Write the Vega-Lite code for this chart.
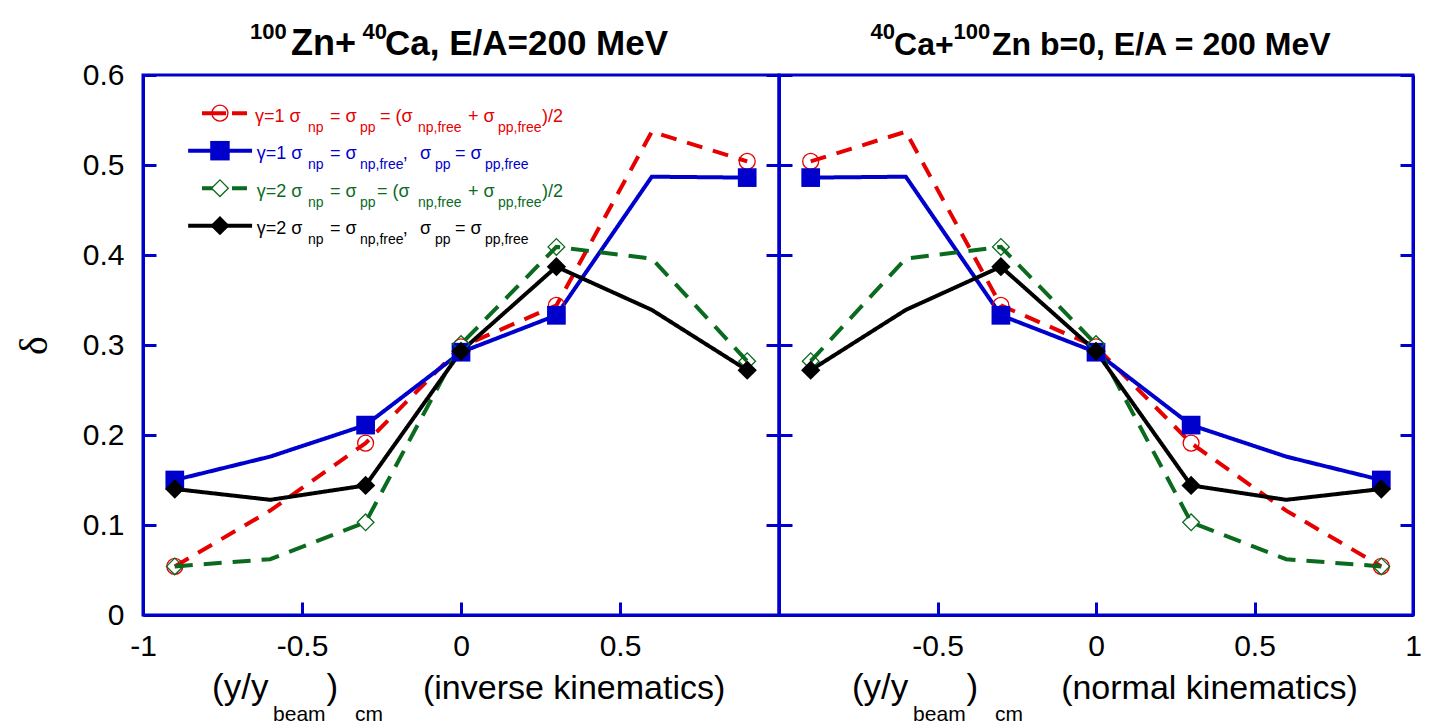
{
"$schema": "https://vega.github.io/schema/vega-lite/v6.json",
"background": "white",
"padding": {"left": 12, "top": 19, "right": 10, "bottom": 5},
"spacing": 0,
"bounds": "flush",
"config": {
  "view": {"stroke": "#0000cc", "strokeWidth": 3},
  "axis": {"domainColor": "#0000cc", "domainWidth": 3, "tickColor": "#0000cc", "tickWidth": 3, "tickSize": -13, "labelFontSize": 30, "labelFont": "Liberation Sans", "labelColor": "#000000", "grid": false, "labelFlush": false, "labelOverlap": false, "labelPadding": 29}
},
"datasets": {"d": [
{"kin":"inv","s":"g1_avg","x":-0.9,"delta":0.054,"m":1},{"kin":"inv","s":"g1_avg","x":-0.6,"delta":0.116,"m":0},{"kin":"inv","s":"g1_avg","x":-0.3,"delta":0.191,"m":1},{"kin":"inv","s":"g1_avg","x":0,"delta":0.298,"m":1},{"kin":"inv","s":"g1_avg","x":0.3,"delta":0.344,"m":1},{"kin":"inv","s":"g1_avg","x":0.6,"delta":0.537,"m":0},{"kin":"inv","s":"g1_avg","x":0.9,"delta":0.504,"m":1},
{"kin":"inv","s":"g1_free","x":-0.9,"delta":0.150,"m":1},{"kin":"inv","s":"g1_free","x":-0.6,"delta":0.176,"m":0},{"kin":"inv","s":"g1_free","x":-0.3,"delta":0.211,"m":1},{"kin":"inv","s":"g1_free","x":0,"delta":0.292,"m":1},{"kin":"inv","s":"g1_free","x":0.3,"delta":0.333,"m":1},{"kin":"inv","s":"g1_free","x":0.6,"delta":0.487,"m":0},{"kin":"inv","s":"g1_free","x":0.9,"delta":0.486,"m":1},
{"kin":"inv","s":"g2_avg","x":-0.9,"delta":0.054,"m":1},{"kin":"inv","s":"g2_avg","x":-0.6,"delta":0.062,"m":0},{"kin":"inv","s":"g2_avg","x":-0.3,"delta":0.103,"m":1},{"kin":"inv","s":"g2_avg","x":0,"delta":0.301,"m":1},{"kin":"inv","s":"g2_avg","x":0.3,"delta":0.409,"m":1},{"kin":"inv","s":"g2_avg","x":0.6,"delta":0.396,"m":0},{"kin":"inv","s":"g2_avg","x":0.9,"delta":0.282,"m":1},
{"kin":"inv","s":"g2_free","x":-0.9,"delta":0.140,"m":1},{"kin":"inv","s":"g2_free","x":-0.6,"delta":0.128,"m":0},{"kin":"inv","s":"g2_free","x":-0.3,"delta":0.144,"m":1},{"kin":"inv","s":"g2_free","x":0,"delta":0.293,"m":1},{"kin":"inv","s":"g2_free","x":0.3,"delta":0.387,"m":1},{"kin":"inv","s":"g2_free","x":0.6,"delta":0.339,"m":0},{"kin":"inv","s":"g2_free","x":0.9,"delta":0.272,"m":1},
{"kin":"nor","s":"g1_avg","x":0.9,"delta":0.054,"m":1},{"kin":"nor","s":"g1_avg","x":0.6,"delta":0.116,"m":0},{"kin":"nor","s":"g1_avg","x":0.3,"delta":0.191,"m":1},{"kin":"nor","s":"g1_avg","x":0,"delta":0.298,"m":1},{"kin":"nor","s":"g1_avg","x":-0.3,"delta":0.344,"m":1},{"kin":"nor","s":"g1_avg","x":-0.6,"delta":0.537,"m":0},{"kin":"nor","s":"g1_avg","x":-0.9,"delta":0.504,"m":1},
{"kin":"nor","s":"g1_free","x":0.9,"delta":0.150,"m":1},{"kin":"nor","s":"g1_free","x":0.6,"delta":0.176,"m":0},{"kin":"nor","s":"g1_free","x":0.3,"delta":0.211,"m":1},{"kin":"nor","s":"g1_free","x":0,"delta":0.292,"m":1},{"kin":"nor","s":"g1_free","x":-0.3,"delta":0.333,"m":1},{"kin":"nor","s":"g1_free","x":-0.6,"delta":0.487,"m":0},{"kin":"nor","s":"g1_free","x":-0.9,"delta":0.486,"m":1},
{"kin":"nor","s":"g2_avg","x":0.9,"delta":0.054,"m":1},{"kin":"nor","s":"g2_avg","x":0.6,"delta":0.062,"m":0},{"kin":"nor","s":"g2_avg","x":0.3,"delta":0.103,"m":1},{"kin":"nor","s":"g2_avg","x":0,"delta":0.301,"m":1},{"kin":"nor","s":"g2_avg","x":-0.3,"delta":0.409,"m":1},{"kin":"nor","s":"g2_avg","x":-0.6,"delta":0.396,"m":0},{"kin":"nor","s":"g2_avg","x":-0.9,"delta":0.282,"m":1},
{"kin":"nor","s":"g2_free","x":0.9,"delta":0.140,"m":1},{"kin":"nor","s":"g2_free","x":0.6,"delta":0.128,"m":0},{"kin":"nor","s":"g2_free","x":0.3,"delta":0.144,"m":1},{"kin":"nor","s":"g2_free","x":0,"delta":0.293,"m":1},{"kin":"nor","s":"g2_free","x":-0.3,"delta":0.387,"m":1},{"kin":"nor","s":"g2_free","x":-0.6,"delta":0.339,"m":0},{"kin":"nor","s":"g2_free","x":-0.9,"delta":0.272,"m":1}
]},
"hconcat": [
{
  "width": 636, "height": 540,
  "data": {"name": "d"},
  "transform": [{"filter": "datum.kin == 'inv'"}],
  "resolve": {"axis": {"x": "independent", "y": "independent"}},
  "layer": [
    {"mark": {"type": "line", "strokeWidth": 4},
     "encoding": {
       "x": {"field": "x", "type": "quantitative", "scale": {"domain": [-1, 1], "nice": false, "zero": false}, "axis": {"orient": "bottom", "title": null, "values": [-1, -0.5, 0, 0.5, 1], "labels": true, "labelExpr": "datum.value == 1 ? '' : '' + datum.value"}},
       "y": {"field": "delta", "type": "quantitative", "scale": {"domain": [0, 0.6], "nice": false, "zero": false}, "axis": {"orient": "left", "values": [0, 0.1, 0.2, 0.3, 0.4, 0.5, 0.6], "labelExpr": "'' + datum.value", "labelPadding": 32, "title": "δ", "titleFont": "Liberation Serif", "titleFontSize": 40, "titleFontWeight": "normal", "titleColor": "#000000", "titlePadding": 28}},
       "color": {"field": "s", "type": "nominal", "scale": {"domain": ["g1_avg", "g1_free", "g2_avg", "g2_free"], "range": ["#e60000", "#0000cc", "#0a6a1e", "#000000"]}, "legend": null},
       "strokeDash": {"field": "s", "type": "nominal", "scale": {"domain": ["g1_avg", "g1_free", "g2_avg", "g2_free"], "range": [[16, 11], [1, 0], [18, 11], [1, 0]]}, "legend": null}
     }},
    {"transform": [{"filter": "datum.m == 1 && datum.s == 'g1_avg'"}],
     "mark": {"type": "point", "shape": "circle", "filled": false, "size": 254, "stroke": "#e60000", "strokeWidth": 1.3, "opacity": 1},
     "encoding": {"x": {"field": "x", "type": "quantitative", "axis": null}, "y": {"field": "delta", "type": "quantitative", "axis": {"orient": "right", "labels": false, "title": null, "values": [0, 0.1, 0.2, 0.3, 0.4, 0.5, 0.6]}}}},
    {"transform": [{"filter": "datum.m == 1 && datum.s == 'g1_free'"}],
     "mark": {"type": "point", "shape": "square", "filled": true, "size": 350, "color": "#0000cc", "opacity": 1},
     "encoding": {"x": {"field": "x", "type": "quantitative", "axis": null}, "y": {"field": "delta", "type": "quantitative", "axis": null}}},
    {"transform": [{"filter": "datum.m == 1 && datum.s == 'g2_avg'"}],
     "mark": {"type": "point", "shape": "diamond", "filled": false, "size": 279, "stroke": "#0a6a1e", "strokeWidth": 1.3, "opacity": 1},
     "encoding": {"x": {"field": "x", "type": "quantitative", "axis": null}, "y": {"field": "delta", "type": "quantitative", "axis": null}}},
    {"transform": [{"filter": "datum.m == 1 && datum.s == 'g2_free'"}],
     "mark": {"type": "point", "shape": "diamond", "filled": true, "size": 373, "color": "#000000", "opacity": 1},
     "encoding": {"x": {"field": "x", "type": "quantitative", "axis": null}, "y": {"field": "delta", "type": "quantitative", "axis": null}}},

    {"data": {"values": [{}]}, "mark": {"type": "text", "align": "left", "baseline": "alphabetic", "font": "Liberation Sans", "fontWeight": "bold", "fontSize": 22, "color": "#000000"}, "encoding": {"x": {"datum": -0.6635, "type": "quantitative", "axis": null}, "y": {"datum": 0.6402, "type": "quantitative", "axis": null}, "text": {"value": "100"}}},
    {"data": {"values": [{}]}, "mark": {"type": "text", "align": "left", "baseline": "alphabetic", "font": "Liberation Sans", "fontWeight": "bold", "fontSize": 36, "color": "#000000"}, "encoding": {"x": {"datum": -0.5346, "type": "quantitative", "axis": null}, "y": {"datum": 0.6222, "type": "quantitative", "axis": null}, "text": {"value": "Zn+"}}},
    {"data": {"values": [{}]}, "mark": {"type": "text", "align": "left", "baseline": "alphabetic", "font": "Liberation Sans", "fontWeight": "bold", "fontSize": 22, "color": "#000000"}, "encoding": {"x": {"datum": -0.310, "type": "quantitative", "axis": null}, "y": {"datum": 0.6402, "type": "quantitative", "axis": null}, "text": {"value": "40"}}},
    {"data": {"values": [{}]}, "mark": {"type": "text", "align": "left", "baseline": "alphabetic", "font": "Liberation Sans", "fontWeight": "bold", "fontSize": 35, "color": "#000000"}, "encoding": {"x": {"datum": -0.239, "type": "quantitative", "axis": null}, "y": {"datum": 0.6222, "type": "quantitative", "axis": null}, "text": {"value": "Ca, E/A=200 MeV"}}},

    {"data": {"values": [{}]}, "mark": {"type": "rule", "color": "#e60000", "strokeWidth": 4, "strokeDash": [24, 6]}, "encoding": {"x": {"datum": -0.8145, "type": "quantitative", "axis": null}, "x2": {"datum": -0.673}, "y": {"datum": 0.5576, "type": "quantitative", "axis": null}}},
    {"data": {"values": [{}]}, "mark": {"type": "point", "shape": "circle", "filled": false, "size": 254, "stroke": "#e60000", "strokeWidth": 1.3, "opacity": 1}, "encoding": {"x": {"datum": -0.758, "type": "quantitative", "axis": null}, "y": {"datum": 0.5576, "type": "quantitative", "axis": null}}},
    {"data": {"values": [{}]}, "mark": {"type": "rule", "color": "#0000cc", "strokeWidth": 4}, "encoding": {"x": {"datum": -0.858, "type": "quantitative", "axis": null}, "x2": {"datum": -0.657}, "y": {"datum": 0.5159, "type": "quantitative", "axis": null}}},
    {"data": {"values": [{}]}, "mark": {"type": "point", "shape": "square", "filled": true, "size": 380, "color": "#0000cc", "opacity": 1}, "encoding": {"x": {"datum": -0.758, "type": "quantitative", "axis": null}, "y": {"datum": 0.5159, "type": "quantitative", "axis": null}}},
    {"data": {"values": [{}]}, "mark": {"type": "rule", "color": "#0a6a1e", "strokeWidth": 4, "strokeDash": [24, 6]}, "encoding": {"x": {"datum": -0.8145, "type": "quantitative", "axis": null}, "x2": {"datum": -0.673}, "y": {"datum": 0.4742, "type": "quantitative", "axis": null}}},
    {"data": {"values": [{}]}, "mark": {"type": "point", "shape": "diamond", "filled": true, "size": 279, "color": "white", "opacity": 1}, "encoding": {"x": {"datum": -0.758, "type": "quantitative", "axis": null}, "y": {"datum": 0.4742, "type": "quantitative", "axis": null}}},
    {"data": {"values": [{}]}, "mark": {"type": "point", "shape": "diamond", "filled": false, "size": 279, "stroke": "#0a6a1e", "strokeWidth": 1.3, "opacity": 1}, "encoding": {"x": {"datum": -0.758, "type": "quantitative", "axis": null}, "y": {"datum": 0.4742, "type": "quantitative", "axis": null}}},
    {"data": {"values": [{}]}, "mark": {"type": "rule", "color": "#000000", "strokeWidth": 4}, "encoding": {"x": {"datum": -0.858, "type": "quantitative", "axis": null}, "x2": {"datum": -0.657}, "y": {"datum": 0.4326, "type": "quantitative", "axis": null}}},
    {"data": {"values": [{}]}, "mark": {"type": "point", "shape": "diamond", "filled": true, "size": 373, "color": "#000000", "opacity": 1}, "encoding": {"x": {"datum": -0.758, "type": "quantitative", "axis": null}, "y": {"datum": 0.4326, "type": "quantitative", "axis": null}}},

    {"data": {"values": [{}]}, "mark": {"type": "text", "align": "left", "baseline": "alphabetic", "font": "Liberation Sans", "fontSize": 18, "color": "#e60000"}, "encoding": {"x": {"datum": -0.6478, "type": "quantitative", "axis": null}, "y": {"datum": 0.5481, "type": "quantitative", "axis": null}, "text": {"value": "γ=1 σ"}}},
    {"data": {"values": [{}]}, "mark": {"type": "text", "align": "left", "baseline": "alphabetic", "font": "Liberation Sans", "fontSize": 14, "color": "#e60000"}, "encoding": {"x": {"datum": -0.4811, "type": "quantitative", "axis": null}, "y": {"datum": 0.5370, "type": "quantitative", "axis": null}, "text": {"value": "np"}}},
    {"data": {"values": [{}]}, "mark": {"type": "text", "align": "left", "baseline": "alphabetic", "font": "Liberation Sans", "fontSize": 18, "color": "#e60000"}, "encoding": {"x": {"datum": -0.4119, "type": "quantitative", "axis": null}, "y": {"datum": 0.5481, "type": "quantitative", "axis": null}, "text": {"value": "= σ"}}},
    {"data": {"values": [{}]}, "mark": {"type": "text", "align": "left", "baseline": "alphabetic", "font": "Liberation Sans", "fontSize": 14, "color": "#e60000"}, "encoding": {"x": {"datum": -0.3176, "type": "quantitative", "axis": null}, "y": {"datum": 0.5370, "type": "quantitative", "axis": null}, "text": {"value": "pp"}}},
    {"data": {"values": [{}]}, "mark": {"type": "text", "align": "left", "baseline": "alphabetic", "font": "Liberation Sans", "fontSize": 18, "color": "#e60000"}, "encoding": {"x": {"datum": -0.2547, "type": "quantitative", "axis": null}, "y": {"datum": 0.5481, "type": "quantitative", "axis": null}, "text": {"value": "= (σ"}}},
    {"data": {"values": [{}]}, "mark": {"type": "text", "align": "left", "baseline": "alphabetic", "font": "Liberation Sans", "fontSize": 14, "color": "#e60000"}, "encoding": {"x": {"datum": -0.1352, "type": "quantitative", "axis": null}, "y": {"datum": 0.5370, "type": "quantitative", "axis": null}, "text": {"value": "np,free"}}},
    {"data": {"values": [{}]}, "mark": {"type": "text", "align": "left", "baseline": "alphabetic", "font": "Liberation Sans", "fontSize": 18, "color": "#e60000"}, "encoding": {"x": {"datum": 0.0220, "type": "quantitative", "axis": null}, "y": {"datum": 0.5481, "type": "quantitative", "axis": null}, "text": {"value": "+ σ"}}},
    {"data": {"values": [{}]}, "mark": {"type": "text", "align": "left", "baseline": "alphabetic", "font": "Liberation Sans", "fontSize": 14, "color": "#e60000"}, "encoding": {"x": {"datum": 0.1164, "type": "quantitative", "axis": null}, "y": {"datum": 0.5370, "type": "quantitative", "axis": null}, "text": {"value": "pp,free"}}},
    {"data": {"values": [{}]}, "mark": {"type": "text", "align": "left", "baseline": "alphabetic", "font": "Liberation Sans", "fontSize": 18, "color": "#e60000"}, "encoding": {"x": {"datum": 0.2547, "type": "quantitative", "axis": null}, "y": {"datum": 0.5481, "type": "quantitative", "axis": null}, "text": {"value": ")/2"}}},

    {"data": {"values": [{}]}, "mark": {"type": "text", "align": "left", "baseline": "alphabetic", "font": "Liberation Sans", "fontSize": 18, "color": "#0000cc"}, "encoding": {"x": {"datum": -0.6425, "type": "quantitative", "axis": null}, "y": {"datum": 0.5064, "type": "quantitative", "axis": null}, "text": {"value": "γ=1 σ"}}},
    {"data": {"values": [{}]}, "mark": {"type": "text", "align": "left", "baseline": "alphabetic", "font": "Liberation Sans", "fontSize": 14, "color": "#0000cc"}, "encoding": {"x": {"datum": -0.4811, "type": "quantitative", "axis": null}, "y": {"datum": 0.4953, "type": "quantitative", "axis": null}, "text": {"value": "np"}}},
    {"data": {"values": [{}]}, "mark": {"type": "text", "align": "left", "baseline": "alphabetic", "font": "Liberation Sans", "fontSize": 18, "color": "#0000cc"}, "encoding": {"x": {"datum": -0.4119, "type": "quantitative", "axis": null}, "y": {"datum": 0.5064, "type": "quantitative", "axis": null}, "text": {"value": "= σ"}}},
    {"data": {"values": [{}]}, "mark": {"type": "text", "align": "left", "baseline": "alphabetic", "font": "Liberation Sans", "fontSize": 14, "color": "#0000cc"}, "encoding": {"x": {"datum": -0.3176, "type": "quantitative", "axis": null}, "y": {"datum": 0.4953, "type": "quantitative", "axis": null}, "text": {"value": "np,free"}}},
    {"data": {"values": [{}]}, "mark": {"type": "text", "align": "left", "baseline": "alphabetic", "font": "Liberation Sans", "fontSize": 18, "color": "#0000cc"}, "encoding": {"x": {"datum": -0.1833, "type": "quantitative", "axis": null}, "y": {"datum": 0.5064, "type": "quantitative", "axis": null}, "text": {"value": ","}}},
    {"data": {"values": [{}]}, "mark": {"type": "text", "align": "left", "baseline": "alphabetic", "font": "Liberation Sans", "fontSize": 18, "color": "#0000cc"}, "encoding": {"x": {"datum": -0.1289, "type": "quantitative", "axis": null}, "y": {"datum": 0.5064, "type": "quantitative", "axis": null}, "text": {"value": "σ"}}},
    {"data": {"values": [{}]}, "mark": {"type": "text", "align": "left", "baseline": "alphabetic", "font": "Liberation Sans", "fontSize": 14, "color": "#0000cc"}, "encoding": {"x": {"datum": -0.0818, "type": "quantitative", "axis": null}, "y": {"datum": 0.4953, "type": "quantitative", "axis": null}, "text": {"value": "pp"}}},
    {"data": {"values": [{}]}, "mark": {"type": "text", "align": "left", "baseline": "alphabetic", "font": "Liberation Sans", "fontSize": 18, "color": "#0000cc"}, "encoding": {"x": {"datum": -0.0189, "type": "quantitative", "axis": null}, "y": {"datum": 0.5064, "type": "quantitative", "axis": null}, "text": {"value": "= σ"}}},
    {"data": {"values": [{}]}, "mark": {"type": "text", "align": "left", "baseline": "alphabetic", "font": "Liberation Sans", "fontSize": 14, "color": "#0000cc"}, "encoding": {"x": {"datum": 0.0755, "type": "quantitative", "axis": null}, "y": {"datum": 0.4953, "type": "quantitative", "axis": null}, "text": {"value": "pp,free"}}},

    {"data": {"values": [{}]}, "mark": {"type": "text", "align": "left", "baseline": "alphabetic", "font": "Liberation Sans", "fontSize": 18, "color": "#0a6a1e"}, "encoding": {"x": {"datum": -0.6425, "type": "quantitative", "axis": null}, "y": {"datum": 0.4648, "type": "quantitative", "axis": null}, "text": {"value": "γ=2 σ"}}},
    {"data": {"values": [{}]}, "mark": {"type": "text", "align": "left", "baseline": "alphabetic", "font": "Liberation Sans", "fontSize": 14, "color": "#0a6a1e"}, "encoding": {"x": {"datum": -0.4811, "type": "quantitative", "axis": null}, "y": {"datum": 0.4537, "type": "quantitative", "axis": null}, "text": {"value": "np"}}},
    {"data": {"values": [{}]}, "mark": {"type": "text", "align": "left", "baseline": "alphabetic", "font": "Liberation Sans", "fontSize": 18, "color": "#0a6a1e"}, "encoding": {"x": {"datum": -0.4119, "type": "quantitative", "axis": null}, "y": {"datum": 0.4648, "type": "quantitative", "axis": null}, "text": {"value": "= σ"}}},
    {"data": {"values": [{}]}, "mark": {"type": "text", "align": "left", "baseline": "alphabetic", "font": "Liberation Sans", "fontSize": 14, "color": "#0a6a1e"}, "encoding": {"x": {"datum": -0.3176, "type": "quantitative", "axis": null}, "y": {"datum": 0.4537, "type": "quantitative", "axis": null}, "text": {"value": "pp"}}},
    {"data": {"values": [{}]}, "mark": {"type": "text", "align": "left", "baseline": "alphabetic", "font": "Liberation Sans", "fontSize": 18, "color": "#0a6a1e"}, "encoding": {"x": {"datum": -0.2642, "type": "quantitative", "axis": null}, "y": {"datum": 0.4648, "type": "quantitative", "axis": null}, "text": {"value": "= (σ"}}},
    {"data": {"values": [{}]}, "mark": {"type": "text", "align": "left", "baseline": "alphabetic", "font": "Liberation Sans", "fontSize": 14, "color": "#0a6a1e"}, "encoding": {"x": {"datum": -0.1352, "type": "quantitative", "axis": null}, "y": {"datum": 0.4537, "type": "quantitative", "axis": null}, "text": {"value": "np,free"}}},
    {"data": {"values": [{}]}, "mark": {"type": "text", "align": "left", "baseline": "alphabetic", "font": "Liberation Sans", "fontSize": 18, "color": "#0a6a1e"}, "encoding": {"x": {"datum": 0.0220, "type": "quantitative", "axis": null}, "y": {"datum": 0.4648, "type": "quantitative", "axis": null}, "text": {"value": "+ σ"}}},
    {"data": {"values": [{}]}, "mark": {"type": "text", "align": "left", "baseline": "alphabetic", "font": "Liberation Sans", "fontSize": 14, "color": "#0a6a1e"}, "encoding": {"x": {"datum": 0.1164, "type": "quantitative", "axis": null}, "y": {"datum": 0.4537, "type": "quantitative", "axis": null}, "text": {"value": "pp,free"}}},
    {"data": {"values": [{}]}, "mark": {"type": "text", "align": "left", "baseline": "alphabetic", "font": "Liberation Sans", "fontSize": 18, "color": "#0a6a1e"}, "encoding": {"x": {"datum": 0.2547, "type": "quantitative", "axis": null}, "y": {"datum": 0.4648, "type": "quantitative", "axis": null}, "text": {"value": ")/2"}}},

    {"data": {"values": [{}]}, "mark": {"type": "text", "align": "left", "baseline": "alphabetic", "font": "Liberation Sans", "fontSize": 18, "color": "#000000"}, "encoding": {"x": {"datum": -0.6425, "type": "quantitative", "axis": null}, "y": {"datum": 0.4231, "type": "quantitative", "axis": null}, "text": {"value": "γ=2 σ"}}},
    {"data": {"values": [{}]}, "mark": {"type": "text", "align": "left", "baseline": "alphabetic", "font": "Liberation Sans", "fontSize": 14, "color": "#000000"}, "encoding": {"x": {"datum": -0.4811, "type": "quantitative", "axis": null}, "y": {"datum": 0.4120, "type": "quantitative", "axis": null}, "text": {"value": "np"}}},
    {"data": {"values": [{}]}, "mark": {"type": "text", "align": "left", "baseline": "alphabetic", "font": "Liberation Sans", "fontSize": 18, "color": "#000000"}, "encoding": {"x": {"datum": -0.4119, "type": "quantitative", "axis": null}, "y": {"datum": 0.4231, "type": "quantitative", "axis": null}, "text": {"value": "= σ"}}},
    {"data": {"values": [{}]}, "mark": {"type": "text", "align": "left", "baseline": "alphabetic", "font": "Liberation Sans", "fontSize": 14, "color": "#000000"}, "encoding": {"x": {"datum": -0.3176, "type": "quantitative", "axis": null}, "y": {"datum": 0.4120, "type": "quantitative", "axis": null}, "text": {"value": "np,free"}}},
    {"data": {"values": [{}]}, "mark": {"type": "text", "align": "left", "baseline": "alphabetic", "font": "Liberation Sans", "fontSize": 18, "color": "#000000"}, "encoding": {"x": {"datum": -0.1833, "type": "quantitative", "axis": null}, "y": {"datum": 0.4231, "type": "quantitative", "axis": null}, "text": {"value": ","}}},
    {"data": {"values": [{}]}, "mark": {"type": "text", "align": "left", "baseline": "alphabetic", "font": "Liberation Sans", "fontSize": 18, "color": "#000000"}, "encoding": {"x": {"datum": -0.1289, "type": "quantitative", "axis": null}, "y": {"datum": 0.4231, "type": "quantitative", "axis": null}, "text": {"value": "σ"}}},
    {"data": {"values": [{}]}, "mark": {"type": "text", "align": "left", "baseline": "alphabetic", "font": "Liberation Sans", "fontSize": 14, "color": "#000000"}, "encoding": {"x": {"datum": -0.0818, "type": "quantitative", "axis": null}, "y": {"datum": 0.4120, "type": "quantitative", "axis": null}, "text": {"value": "pp"}}},
    {"data": {"values": [{}]}, "mark": {"type": "text", "align": "left", "baseline": "alphabetic", "font": "Liberation Sans", "fontSize": 18, "color": "#000000"}, "encoding": {"x": {"datum": -0.0189, "type": "quantitative", "axis": null}, "y": {"datum": 0.4231, "type": "quantitative", "axis": null}, "text": {"value": "= σ"}}},
    {"data": {"values": [{}]}, "mark": {"type": "text", "align": "left", "baseline": "alphabetic", "font": "Liberation Sans", "fontSize": 14, "color": "#000000"}, "encoding": {"x": {"datum": 0.0755, "type": "quantitative", "axis": null}, "y": {"datum": 0.4120, "type": "quantitative", "axis": null}, "text": {"value": "pp,free"}}},

    {"data": {"values": [{}]}, "mark": {"type": "text", "align": "left", "baseline": "alphabetic", "font": "Liberation Sans", "fontSize": 35, "color": "#000000"}, "encoding": {"x": {"datum": -0.783, "type": "quantitative", "axis": null}, "y": {"datum": -0.0933, "type": "quantitative", "axis": null}, "text": {"value": "(y/y"}}},
    {"data": {"values": [{}]}, "mark": {"type": "text", "align": "left", "baseline": "alphabetic", "font": "Liberation Sans", "fontSize": 21, "color": "#000000"}, "encoding": {"x": {"datum": -0.591, "type": "quantitative", "axis": null}, "y": {"datum": -0.1178, "type": "quantitative", "axis": null}, "text": {"value": "beam"}}},
    {"data": {"values": [{}]}, "mark": {"type": "text", "align": "left", "baseline": "alphabetic", "font": "Liberation Sans", "fontSize": 35, "color": "#000000"}, "encoding": {"x": {"datum": -0.423, "type": "quantitative", "axis": null}, "y": {"datum": -0.0933, "type": "quantitative", "axis": null}, "text": {"value": ")"}}},
    {"data": {"values": [{}]}, "mark": {"type": "text", "align": "left", "baseline": "alphabetic", "font": "Liberation Sans", "fontSize": 21, "color": "#000000"}, "encoding": {"x": {"datum": -0.333, "type": "quantitative", "axis": null}, "y": {"datum": -0.1178, "type": "quantitative", "axis": null}, "text": {"value": "cm"}}},
    {"data": {"values": [{}]}, "mark": {"type": "text", "align": "left", "baseline": "alphabetic", "font": "Liberation Sans", "fontSize": 34, "color": "#000000"}, "encoding": {"x": {"datum": -0.1195, "type": "quantitative", "axis": null}, "y": {"datum": -0.0933, "type": "quantitative", "axis": null}, "text": {"value": "(inverse kinematics)"}}}
  ]
},
{
  "width": 634, "height": 540,
  "data": {"name": "d"},
  "transform": [{"filter": "datum.kin == 'nor'"}],
  "resolve": {"axis": {"x": "independent", "y": "independent"}},
  "layer": [
    {"mark": {"type": "line", "strokeWidth": 4},
     "encoding": {
       "x": {"field": "x", "type": "quantitative", "scale": {"domain": [-1, 1], "nice": false, "zero": false}, "axis": {"orient": "bottom", "title": null, "values": [-1, -0.5, 0, 0.5, 1], "labels": true, "labelExpr": "datum.value == -1 ? '' : '' + datum.value"}},
       "y": {"field": "delta", "type": "quantitative", "scale": {"domain": [0, 0.6], "nice": false, "zero": false}, "axis": {"orient": "left", "values": [0, 0.1, 0.2, 0.3, 0.4, 0.5, 0.6], "labels": false, "title": null}},
       "color": {"field": "s", "type": "nominal", "scale": {"domain": ["g1_avg", "g1_free", "g2_avg", "g2_free"], "range": ["#e60000", "#0000cc", "#0a6a1e", "#000000"]}, "legend": null},
       "strokeDash": {"field": "s", "type": "nominal", "scale": {"domain": ["g1_avg", "g1_free", "g2_avg", "g2_free"], "range": [[16, 11], [1, 0], [18, 11], [1, 0]]}, "legend": null}
     }},
    {"transform": [{"filter": "datum.m == 1 && datum.s == 'g1_avg'"}],
     "mark": {"type": "point", "shape": "circle", "filled": false, "size": 254, "stroke": "#e60000", "strokeWidth": 1.3, "opacity": 1},
     "encoding": {"x": {"field": "x", "type": "quantitative", "axis": null}, "y": {"field": "delta", "type": "quantitative", "axis": {"orient": "right", "labels": false, "title": null, "values": [0, 0.1, 0.2, 0.3, 0.4, 0.5, 0.6]}}}},
    {"transform": [{"filter": "datum.m == 1 && datum.s == 'g1_free'"}],
     "mark": {"type": "point", "shape": "square", "filled": true, "size": 350, "color": "#0000cc", "opacity": 1},
     "encoding": {"x": {"field": "x", "type": "quantitative", "axis": null}, "y": {"field": "delta", "type": "quantitative", "axis": null}}},
    {"transform": [{"filter": "datum.m == 1 && datum.s == 'g2_avg'"}],
     "mark": {"type": "point", "shape": "diamond", "filled": false, "size": 279, "stroke": "#0a6a1e", "strokeWidth": 1.3, "opacity": 1},
     "encoding": {"x": {"field": "x", "type": "quantitative", "axis": null}, "y": {"field": "delta", "type": "quantitative", "axis": null}}},
    {"transform": [{"filter": "datum.m == 1 && datum.s == 'g2_free'"}],
     "mark": {"type": "point", "shape": "diamond", "filled": true, "size": 373, "color": "#000000", "opacity": 1},
     "encoding": {"x": {"field": "x", "type": "quantitative", "axis": null}, "y": {"field": "delta", "type": "quantitative", "axis": null}}},

    {"data": {"values": [{}]}, "mark": {"type": "text", "align": "left", "baseline": "alphabetic", "font": "Liberation Sans", "fontWeight": "bold", "fontSize": 22, "color": "#000000"}, "encoding": {"x": {"datum": -0.711, "type": "quantitative", "axis": null}, "y": {"datum": 0.6402, "type": "quantitative", "axis": null}, "text": {"value": "40"}}},
    {"data": {"values": [{}]}, "mark": {"type": "text", "align": "left", "baseline": "alphabetic", "font": "Liberation Sans", "fontWeight": "bold", "fontSize": 32, "color": "#000000"}, "encoding": {"x": {"datum": -0.637, "type": "quantitative", "axis": null}, "y": {"datum": 0.6222, "type": "quantitative", "axis": null}, "text": {"value": "Ca+"}}},
    {"data": {"values": [{}]}, "mark": {"type": "text", "align": "left", "baseline": "alphabetic", "font": "Liberation Sans", "fontWeight": "bold", "fontSize": 22, "color": "#000000"}, "encoding": {"x": {"datum": -0.4495, "type": "quantitative", "axis": null}, "y": {"datum": 0.6402, "type": "quantitative", "axis": null}, "text": {"value": "100"}}},
    {"data": {"values": [{}]}, "mark": {"type": "text", "align": "left", "baseline": "alphabetic", "font": "Liberation Sans", "fontWeight": "bold", "fontSize": 32, "color": "#000000"}, "encoding": {"x": {"datum": -0.328, "type": "quantitative", "axis": null}, "y": {"datum": 0.6222, "type": "quantitative", "axis": null}, "text": {"value": "Zn b=0, E/A = 200 MeV"}}},

    {"data": {"values": [{}]}, "mark": {"type": "text", "align": "left", "baseline": "alphabetic", "font": "Liberation Sans", "fontSize": 35, "color": "#000000"}, "encoding": {"x": {"datum": -0.770, "type": "quantitative", "axis": null}, "y": {"datum": -0.0933, "type": "quantitative", "axis": null}, "text": {"value": "(y/y"}}},
    {"data": {"values": [{}]}, "mark": {"type": "text", "align": "left", "baseline": "alphabetic", "font": "Liberation Sans", "fontSize": 21, "color": "#000000"}, "encoding": {"x": {"datum": -0.577, "type": "quantitative", "axis": null}, "y": {"datum": -0.1178, "type": "quantitative", "axis": null}, "text": {"value": "beam"}}},
    {"data": {"values": [{}]}, "mark": {"type": "text", "align": "left", "baseline": "alphabetic", "font": "Liberation Sans", "fontSize": 35, "color": "#000000"}, "encoding": {"x": {"datum": -0.4085, "type": "quantitative", "axis": null}, "y": {"datum": -0.0933, "type": "quantitative", "axis": null}, "text": {"value": ")"}}},
    {"data": {"values": [{}]}, "mark": {"type": "text", "align": "left", "baseline": "alphabetic", "font": "Liberation Sans", "fontSize": 21, "color": "#000000"}, "encoding": {"x": {"datum": -0.319, "type": "quantitative", "axis": null}, "y": {"datum": -0.1178, "type": "quantitative", "axis": null}, "text": {"value": "cm"}}},
    {"data": {"values": [{}]}, "mark": {"type": "text", "align": "left", "baseline": "alphabetic", "font": "Liberation Sans", "fontSize": 34, "color": "#000000"}, "encoding": {"x": {"datum": -0.110, "type": "quantitative", "axis": null}, "y": {"datum": -0.0933, "type": "quantitative", "axis": null}, "text": {"value": "(normal kinematics)"}}}
  ]
}
]
}
